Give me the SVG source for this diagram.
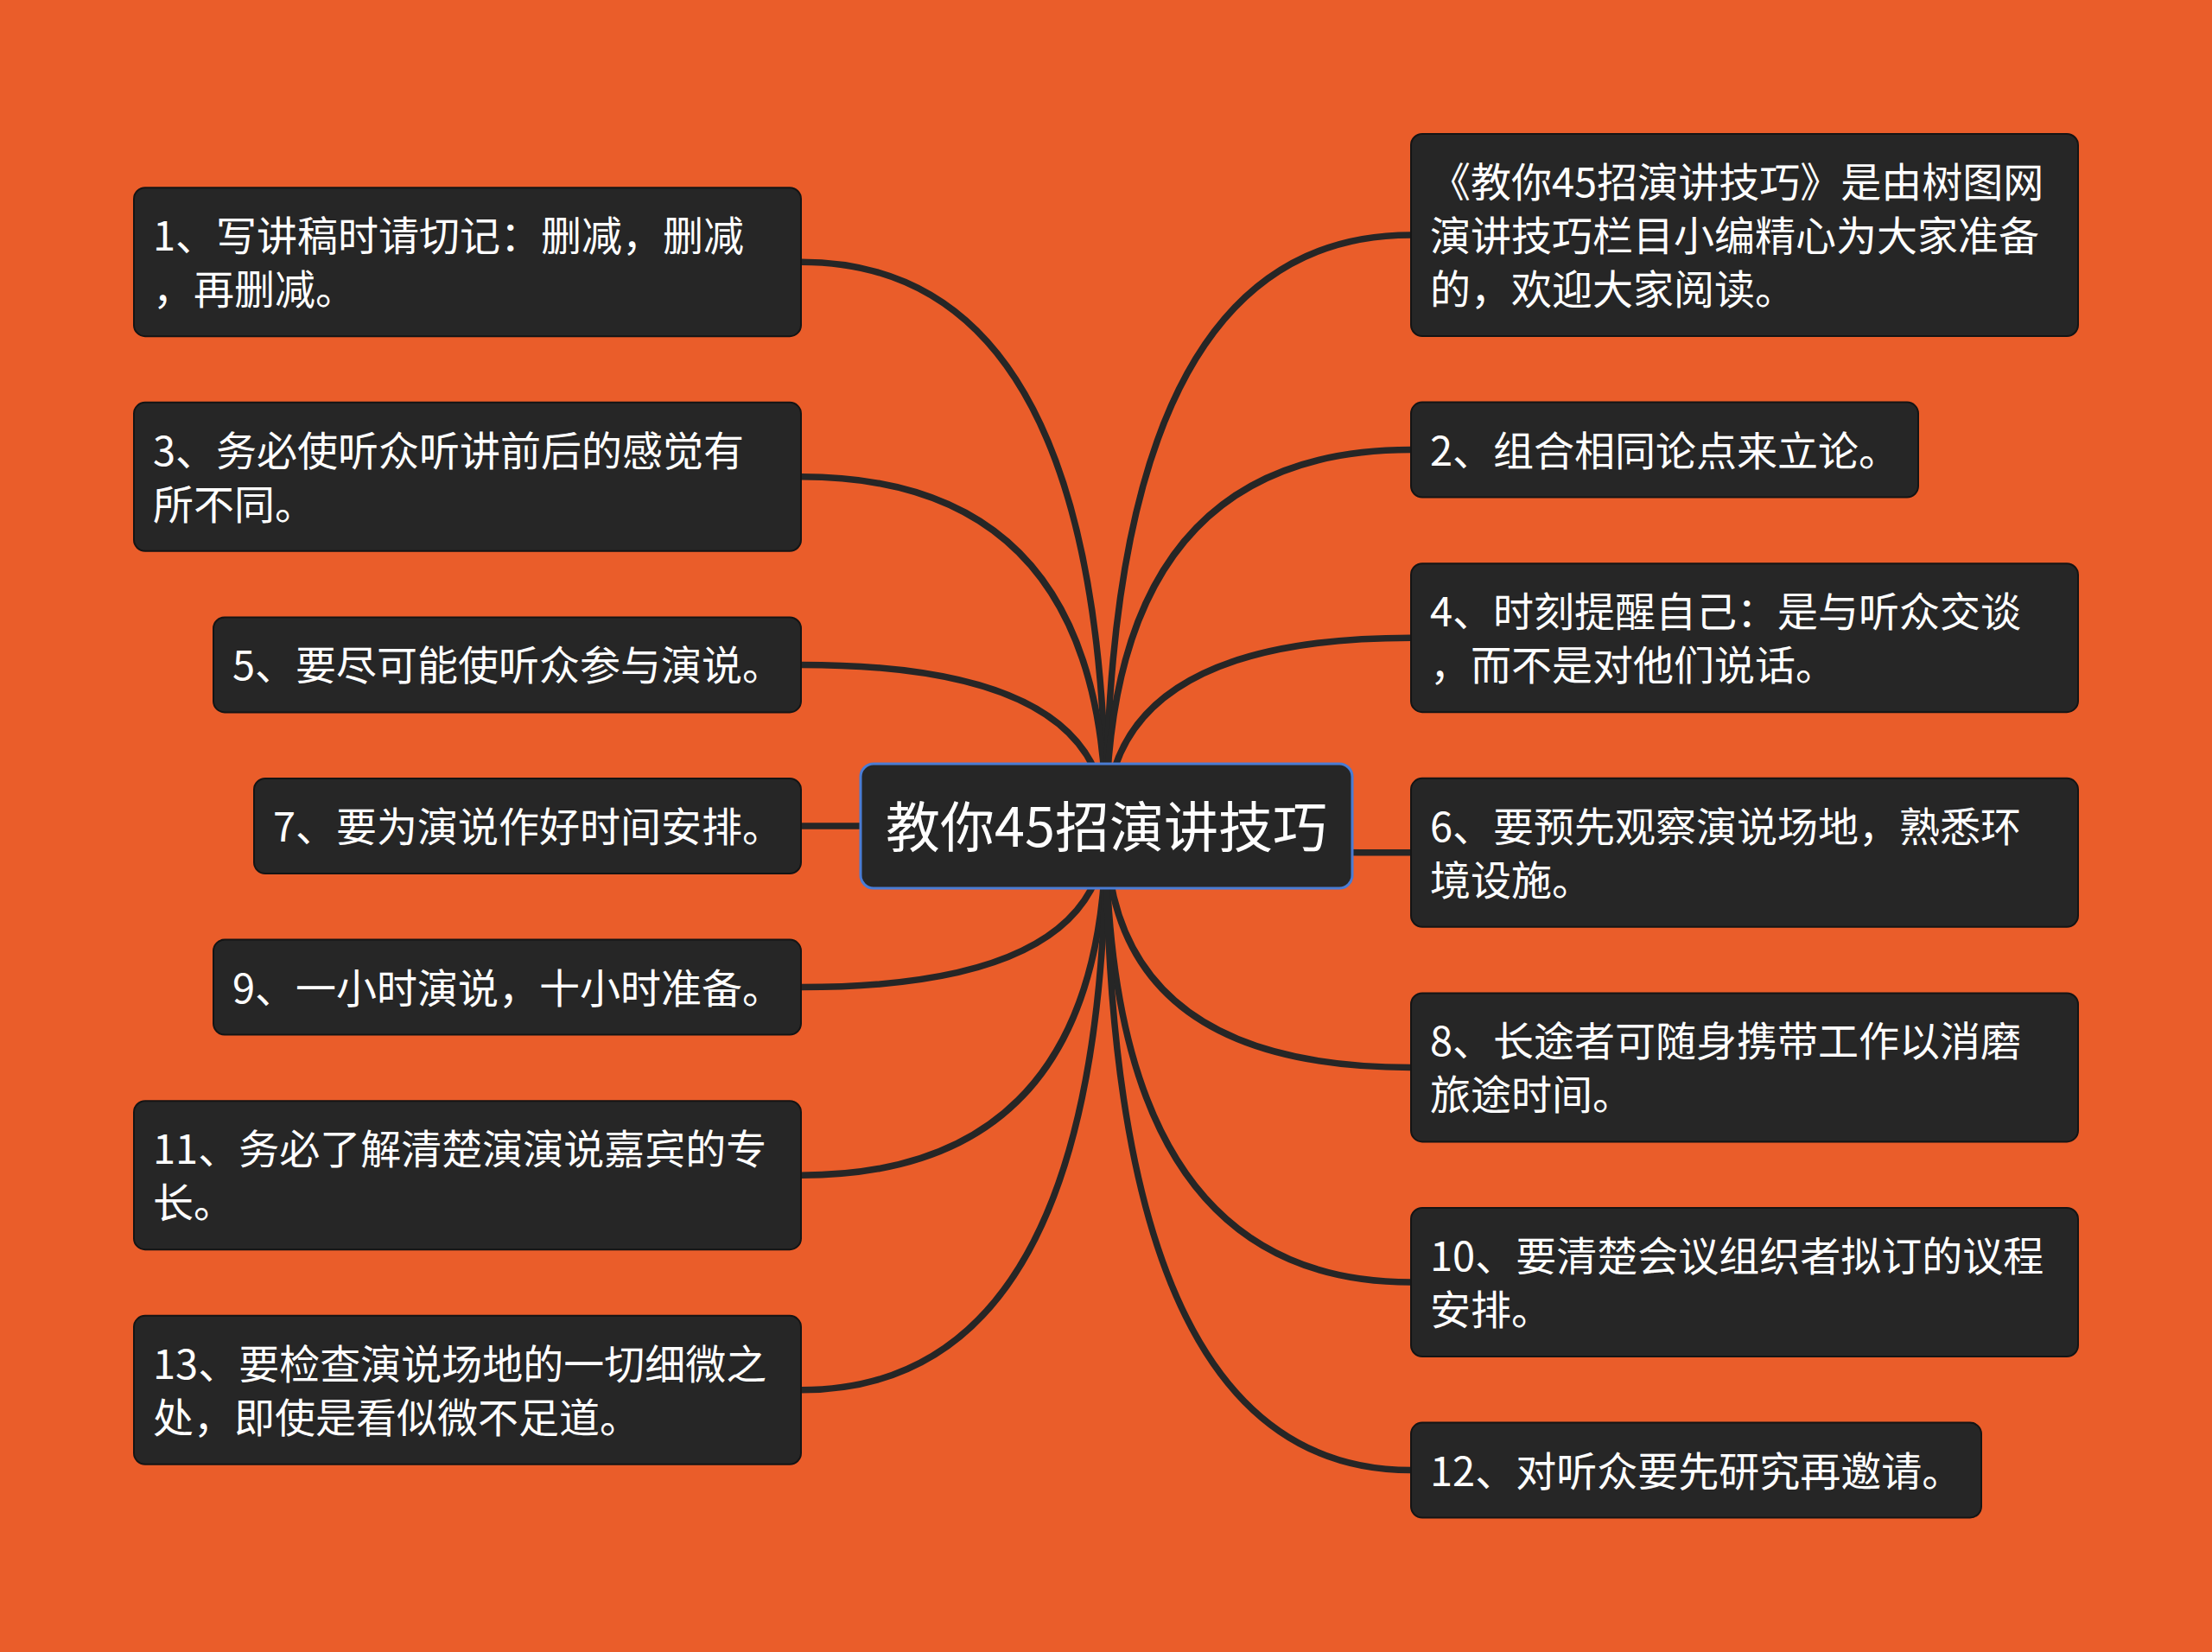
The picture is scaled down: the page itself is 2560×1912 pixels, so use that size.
<svg xmlns="http://www.w3.org/2000/svg" width="2560" height="1912" viewBox="0 0 2560 1912">
<style>
.bg{fill:#EA5D2A}
.node{fill:#262626;stroke:#141414;stroke-width:2}
.root{fill:#262626;stroke:#4A7CD4;stroke-width:3}
.t{font-family:"Noto Sans CJK SC","Noto Sans",sans-serif;font-size:47px;fill:#FFFFFF}
.rt{font-family:"Noto Sans CJK SC","Noto Sans",sans-serif;font-size:63px;fill:#FFFFFF;text-anchor:middle}
.c{fill:none;stroke:#262626;stroke-width:7.5}
</style>
<rect class="bg" x="0" y="0" width="2560" height="1912"/>
<g id="connectors">
<path class="c" d="M927,303.2 Q1280,303.2 1280,956"/>
<path class="c" d="M927,551.8 Q1280,551.8 1280,956"/>
<path class="c" d="M927,769.4 Q1280,769.4 1280,956"/>
<path class="c" d="M927,956 L1280,956"/>
<path class="c" d="M927,1142.6 Q1280,1142.6 1280,956"/>
<path class="c" d="M927,1360.2 Q1280,1360.2 1280,956"/>
<path class="c" d="M927,1608.8 Q1280,1608.8 1280,956"/>
<path class="c" d="M1633,272 Q1280,272 1280,956"/>
<path class="c" d="M1633,520.6 Q1280,520.6 1280,956"/>
<path class="c" d="M1633,738.2 Q1280,738.2 1280,956"/>
<path class="c" d="M1633,986.8 Q1280,986.8 1280,956"/>
<path class="c" d="M1633,1235.4 Q1280,1235.4 1280,956"/>
<path class="c" d="M1633,1484 Q1280,1484 1280,956"/>
<path class="c" d="M1633,1701.6 Q1280,1701.6 1280,956"/>
</g>
<g id="root">
<rect class="root" x="996" y="884" width="569" height="144" rx="15"/>
<text class="rt" x="1280.5" y="980">教你45招演讲技巧</text>
</g>
<g id="n1">
<rect class="node" x="155" y="217.2" width="772" height="172" rx="13"/>
<text class="t"><tspan x="177" y="290">1、写讲稿时请切记：删减，删减</tspan><tspan x="177" y="352">，再删减。</tspan></text>
</g>
<g id="n3">
<rect class="node" x="155" y="465.8" width="772" height="172" rx="13"/>
<text class="t"><tspan x="177" y="539">3、务必使听众听讲前后的感觉有</tspan><tspan x="177" y="601">所不同。</tspan></text>
</g>
<g id="n5">
<rect class="node" x="247" y="714.4" width="680" height="110" rx="13"/>
<text class="t" x="269" y="787">5、要尽可能使听众参与演说。</text>
</g>
<g id="n7">
<rect class="node" x="294" y="901" width="633" height="110" rx="13"/>
<text class="t" x="316" y="974">7、要为演说作好时间安排。</text>
</g>
<g id="n9">
<rect class="node" x="247" y="1087.6" width="680" height="110" rx="13"/>
<text class="t" x="269" y="1161">9、一小时演说，十小时准备。</text>
</g>
<g id="n11">
<rect class="node" x="155" y="1274.2" width="772" height="172" rx="13"/>
<text class="t"><tspan x="177" y="1347">11、务必了解清楚演演说嘉宾的专</tspan><tspan x="177" y="1409">长。</tspan></text>
</g>
<g id="n13">
<rect class="node" x="155" y="1522.8" width="772" height="172" rx="13"/>
<text class="t"><tspan x="177" y="1596">13、要检查演说场地的一切细微之</tspan><tspan x="177" y="1658">处，即使是看似微不足道。</tspan></text>
</g>
<g id="intro">
<rect class="node" x="1633" y="155" width="772" height="234" rx="13"/>
<text class="t"><tspan x="1655" y="228">《教你45招演讲技巧》是由树图网</tspan><tspan x="1655" y="290">演讲技巧栏目小编精心为大家准备</tspan><tspan x="1655" y="352">的，欢迎大家阅读。</tspan></text>
</g>
<g id="n2">
<rect class="node" x="1633" y="465.6" width="587" height="110" rx="13"/>
<text class="t" x="1655" y="539">2、组合相同论点来立论。</text>
</g>
<g id="n4">
<rect class="node" x="1633" y="652.2" width="772" height="172" rx="13"/>
<text class="t"><tspan x="1655" y="725">4、时刻提醒自己：是与听众交谈</tspan><tspan x="1655" y="787">，而不是对他们说话。</tspan></text>
</g>
<g id="n6">
<rect class="node" x="1633" y="900.8" width="772" height="172" rx="13"/>
<text class="t"><tspan x="1655" y="974">6、要预先观察演说场地，熟悉环</tspan><tspan x="1655" y="1036">境设施。</tspan></text>
</g>
<g id="n8">
<rect class="node" x="1633" y="1149.4" width="772" height="172" rx="13"/>
<text class="t"><tspan x="1655" y="1222">8、长途者可随身携带工作以消磨</tspan><tspan x="1655" y="1284">旅途时间。</tspan></text>
</g>
<g id="n10">
<rect class="node" x="1633" y="1398" width="772" height="172" rx="13"/>
<text class="t"><tspan x="1655" y="1471">10、要清楚会议组织者拟订的议程</tspan><tspan x="1655" y="1533">安排。</tspan></text>
</g>
<g id="n12">
<rect class="node" x="1633" y="1646.6" width="660" height="110" rx="13"/>
<text class="t" x="1655" y="1720">12、对听众要先研究再邀请。</text>
</g>
</svg>
